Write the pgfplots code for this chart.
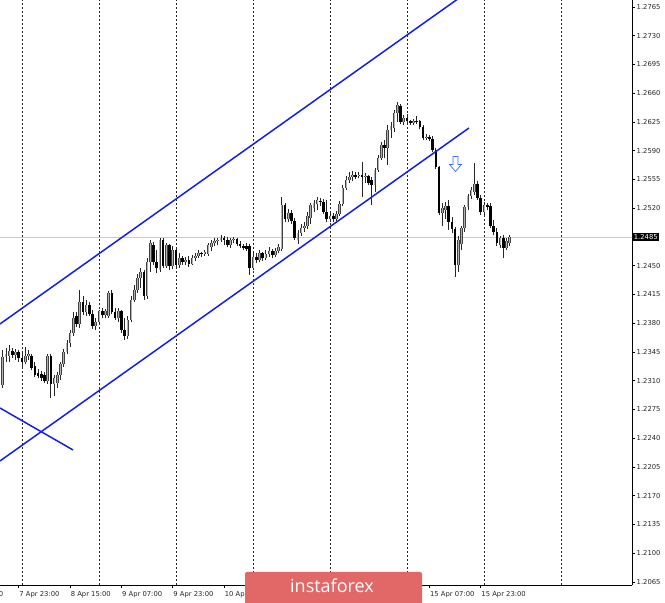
\documentclass[border=0pt]{standalone}
\usepackage{pgfplots}
\pgfplotsset{compat=1.18}
\usepackage{pgfplotstable}
\usepackage{fontspec}
\setmainfont{DejaVu Sans}
\newfontfamily\logofont{Open Sans}
\definecolor{chblue}{RGB}{20,30,235}
\definecolor{arrblue}{RGB}{60,110,255}
\definecolor{logored}{RGB}{226,104,104}

\pgfplotstableread{
x o h l c
-6 1.2305 1.2347 1.2301 1.2339
-5 1.2339 1.2350 1.2333 1.2343
-4 1.2340 1.2353 1.2333 1.2346
-3 1.2346 1.2350 1.2338 1.2341
-2 1.2341 1.2349 1.2335 1.2345
-1 1.2345 1.2347 1.2333 1.2338
0 1.2338 1.2344 1.2327 1.2333
1 1.2333 1.2351 1.2330 1.2340
2 1.2340 1.2347 1.2335 1.2343
3 1.2340 1.2343 1.2323 1.2326
4 1.2328 1.2333 1.2315 1.2317
5 1.2319 1.2324 1.2313 1.2316
6 1.2318 1.2322 1.2310 1.2313
7 1.2317 1.2321 1.2307 1.2310
8 1.2310 1.2343 1.2306 1.2340
9 1.2340 1.2343 1.2289 1.2306
10 1.2306 1.2317 1.2291 1.2313
11 1.2307 1.2321 1.2301 1.2317
12 1.2317 1.2333 1.2311 1.2330
13 1.2330 1.2349 1.2327 1.2345
14 1.2345 1.2360 1.2343 1.2356
15 1.2356 1.2372 1.2351 1.2368
16 1.2368 1.2394 1.2364 1.2386
17 1.2389 1.2394 1.2375 1.2379
18 1.2379 1.2420 1.2374 1.2406
19 1.2406 1.2413 1.2390 1.2394
20 1.2394 1.2408 1.2389 1.2402
21 1.2402 1.2406 1.2389 1.2391
22 1.2391 1.2396 1.2373 1.2377
23 1.2377 1.2386 1.2372 1.2382
24 1.2382 1.2396 1.2378 1.2395
25 1.2395 1.2399 1.2386 1.2390
26 1.2390 1.2397 1.2386 1.2395
27 1.2389 1.2419 1.2386 1.2417
28 1.2417 1.2420 1.2391 1.2394
29 1.2394 1.2399 1.2384 1.2386
30 1.2386 1.2399 1.2382 1.2395
31 1.2395 1.2396 1.2368 1.2372
32 1.2372 1.2386 1.2360 1.2364
33 1.2364 1.2389 1.2361 1.2384
34 1.2384 1.2413 1.2382 1.2408
35 1.2408 1.2427 1.2406 1.2420
36 1.2420 1.2440 1.2417 1.2435
37 1.2435 1.2447 1.2423 1.2442
38 1.2442 1.2445 1.2408 1.2413
39 1.2413 1.2459 1.2409 1.2455
40 1.2455 1.2481 1.2442 1.2478
41 1.2475 1.2479 1.2451 1.2455
42 1.2455 1.2469 1.2441 1.2447
43 1.2445 1.2484 1.2442 1.2481
44 1.2481 1.2484 1.2447 1.2450
45 1.2450 1.2478 1.2447 1.2475
46 1.2475 1.2476 1.2445 1.2450
47 1.2450 1.2474 1.2446 1.2469
48 1.2469 1.2471 1.2447 1.2451
49 1.2451 1.2465 1.2447 1.2459
50 1.2459 1.2462 1.2451 1.2455
51 1.2455 1.2461 1.2451 1.2457
52 1.2457 1.2462 1.2448 1.2452
53 1.2452 1.2463 1.2451 1.2459
54 1.2459 1.2465 1.2456 1.2462
55 1.2462 1.2469 1.2459 1.2465
56 1.2465 1.2467 1.2461 1.2464
57 1.2464 1.2469 1.2462 1.2467
58 1.2464 1.2478 1.2462 1.2475
59 1.2473 1.2481 1.2468 1.2478
60 1.2478 1.2484 1.2474 1.2480
61 1.2480 1.2484 1.2475 1.2481
62 1.2481 1.2487 1.2479 1.2484
63 1.2484 1.2486 1.2475 1.2481
64 1.2481 1.2485 1.2473 1.2475
65 1.2475 1.2484 1.2472 1.2481
66 1.2481 1.2485 1.2478 1.2482
67 1.2482 1.2484 1.2474 1.2476
68 1.2476 1.2480 1.2472 1.2474
69 1.2474 1.2476 1.2469 1.2472
70 1.2474 1.2478 1.2468 1.2470
71 1.2474 1.2476 1.2439 1.2447
72 1.2447 1.2465 1.2445 1.2461
73 1.2461 1.2465 1.2453 1.2457
74 1.2457 1.2469 1.2455 1.2465
75 1.2465 1.2467 1.2456 1.2459
76 1.2459 1.2469 1.2457 1.2464
77 1.2464 1.2473 1.2461 1.2468
78 1.2468 1.2470 1.2459 1.2463
79 1.2463 1.2472 1.2461 1.2468
80 1.2468 1.2476 1.2465 1.2473
81 1.2470 1.2534 1.2468 1.2524
82 1.2524 1.2526 1.2503 1.2507
83 1.2507 1.2519 1.2503 1.2514
84 1.2514 1.2518 1.2501 1.2504
85 1.2504 1.2508 1.2481 1.2484
86 1.2481 1.2494 1.2476 1.2490
87 1.2490 1.2501 1.2486 1.2496
88 1.2496 1.2503 1.2491 1.2498
89 1.2498 1.2515 1.2495 1.2511
90 1.2508 1.2526 1.2501 1.2524
91 1.2520 1.2530 1.2515 1.2526
92 1.2525 1.2534 1.2518 1.2530
93 1.2529 1.2532 1.2523 1.2528
94 1.2528 1.2531 1.2513 1.2515
95 1.2515 1.2530 1.2503 1.2507
96 1.2507 1.2515 1.2503 1.2511
97 1.2511 1.2514 1.2503 1.2507
98 1.2507 1.2517 1.2504 1.2513
99 1.2513 1.2529 1.2511 1.2525
100 1.2525 1.2548 1.2523 1.2545
101 1.2545 1.2559 1.2542 1.2554
102 1.2554 1.2564 1.2551 1.2558
103 1.2558 1.2565 1.2553 1.2560
104 1.2560 1.2564 1.2556 1.2558
105 1.2559 1.2564 1.2557 1.2560
106 1.2560 1.2576 1.2534 1.2558
107 1.2558 1.2563 1.2551 1.2559
108 1.2559 1.2561 1.2548 1.2551
109 1.2554 1.2558 1.2524 1.2548
110 1.2548 1.2569 1.2540 1.2567
111 1.2567 1.2585 1.2564 1.2581
112 1.2581 1.2601 1.2579 1.2597
113 1.2597 1.2603 1.2581 1.2593
114 1.2593 1.2621 1.2573 1.2615
115 1.2615 1.2625 1.2606 1.2620
116 1.2618 1.2640 1.2613 1.2636
117 1.2636 1.2649 1.2625 1.2646
118 1.2645 1.2647 1.2622 1.2625
119 1.2625 1.2633 1.2621 1.2630
120 1.2630 1.2635 1.2622 1.2626
121 1.2626 1.2628 1.2621 1.2624
122 1.2624 1.2629 1.2621 1.2626
123 1.2626 1.2632 1.2622 1.2625
124 1.2626 1.2627 1.2616 1.2619
125 1.2619 1.2621 1.2603 1.2606
126 1.2606 1.2610 1.2603 1.2607
127 1.2607 1.2609 1.2602 1.2604
128 1.2604 1.2608 1.2588 1.2591
129 1.2591 1.2593 1.2568 1.2570
130 1.2570 1.2572 1.2512 1.2514
131 1.2514 1.2526 1.2498 1.2520
132 1.2518 1.2528 1.2507 1.2523
133 1.2523 1.2530 1.2494 1.2503
134 1.2503 1.2509 1.2490 1.2495
135 1.2495 1.2497 1.2436 1.2451
136 1.2451 1.2486 1.2442 1.2481
137 1.2476 1.2498 1.2469 1.2496
138 1.2496 1.2524 1.2491 1.2522
139 1.2522 1.2537 1.2518 1.2535
140 1.2535 1.2546 1.2531 1.2542
141 1.2540 1.2575 1.2536 1.2550
142 1.2550 1.2553 1.2530 1.2532
143 1.2532 1.2536 1.2512 1.2515
144 1.2515 1.2528 1.2511 1.2524
145 1.2524 1.2526 1.2518 1.2522
146 1.2523 1.2526 1.2496 1.2498
147 1.2498 1.2506 1.2487 1.2491
148 1.2491 1.2496 1.2474 1.2478
149 1.2475 1.2486 1.2472 1.2484
150 1.2484 1.2487 1.2459 1.2472
151 1.2472 1.2484 1.2469 1.2480
152 1.2478 1.2488 1.2474 1.2485
}\ohlc

\begin{document}
\begin{tikzpicture}
\begin{axis}[
  at={(0pt,0pt)}, anchor=south west,
  scale only axis, width=632pt, height=585pt,
  xmin=-6.857, xmax=190.13, ymin=1.20613, ymax=1.27735,
  axis x line*=bottom, axis y line*=right,
  axis line style={black, line width=0.9pt},
  tick align=outside, major tick length=3pt,
  tick style={black, line width=0.6pt},
  /pgf/number format/assume math mode=true,
  scaled y ticks=false,
  ytick={1.2065,1.2100,1.2135,1.2170,1.2205,1.2240,1.2275,1.2310,1.2345,1.2380,1.2415,1.2450,1.2520,1.2555,1.2590,1.2625,1.2660,1.2695,1.2730,1.2765},
  yticklabel style={font=\fontsize{6.8}{8}\selectfont, text=black!85, inner sep=0pt, xshift=1.5pt,
    /pgf/number format/fixed, /pgf/number format/fixed zerofill, /pgf/number format/precision=4},
  xtick={-1,15,31,47,63,127,143},
  xticklabels={7 Apr 23:00, 8 Apr 15:00, 9 Apr 07:00, 9 Apr 23:00, 10 Apr 15:00, 15 Apr 07:00, 15 Apr 23:00},
  xticklabel style={font=\fontsize{6.8}{8}\selectfont, text=black!85, anchor=north west, inner sep=0pt, xshift=0.5pt, yshift=-3.5pt},
  extra x ticks={0,24,48,72,96,120,144,168},
  extra x tick labels={},
  extra x tick style={grid=major, major tick length=0pt},
  major grid style={black!85, line width=0.6pt, dash pattern=on 2pt off 2pt},
  clip=true,
]
\addplot[black!20, line width=0.8pt] coordinates {(-7,1.2485) (191,1.2485)};
\addplot[black!85, line width=0.8pt, quiver={u=0, v=\thisrow{h}-\thisrow{l}}] table[x=x, y=l] {\ohlc};
\addplot[black, line width=2.6pt, quiver={u=0, v=\thisrow{c}-\thisrow{o}},
  restrict expr to domain={\thisrow{c}-\thisrow{o}}{-1:-0.00001}] table[x=x, y=o] {\ohlc};
\addplot[black!75, line width=2.6pt, quiver={u=0, v=\thisrow{c}-\thisrow{o}},
  restrict expr to domain={\thisrow{c}-\thisrow{o}}{0:1}] table[x=x, y=o] {\ohlc};
\addplot[black!30, line width=1.0pt, quiver={u=0, v=\thisrow{c}-\thisrow{o}},
  restrict expr to domain={\thisrow{c}-\thisrow{o}}{0:1}] table[x=x, y=o] {\ohlc};
\addplot[chblue, line width=1.5pt] coordinates {(-6.857,1.23791) (140,1.27863)};
\addplot[chblue, line width=1.5pt] coordinates {(-6.857,1.22123) (139.33,1.26177)};
\addplot[chblue, line width=1.5pt] coordinates {(-6.857,1.22768) (15.9,1.22257)};
\draw[arrblue, fill=white, line width=0.7pt] (axis cs:135.1,1.2583) ++(-2.5pt,0pt) -- ++(5pt,0pt) -- ++(0pt,-8pt) -- ++(3.5pt,0pt) -- ++(-6pt,-7pt) -- ++(-6pt,7pt) -- ++(3.5pt,0pt) -- cycle;
\end{axis}
\node[anchor=north west, inner sep=0pt, font=\fontsize{6.8}{8}\selectfont, text=black!85] at (-37pt,-6.5pt) {7 Apr 07:00};
\node[fill=black, text=white, font=\fontsize{6.8}{8}\selectfont, inner sep=1.2pt, anchor=west] at (632.5pt,348pt) {1.2485};
\fill[logored, rounded corners=2pt] (245pt,13pt) rectangle (422pt,-22pt);
\node[text=white, font=\logofont\fontsize{18}{20}\selectfont, inner sep=0pt] at (332pt,-0.5pt) {instaforex};
\pgfresetboundingbox
\path (0pt,-18pt) rectangle (665pt,585pt);
\end{tikzpicture}
\end{document}
